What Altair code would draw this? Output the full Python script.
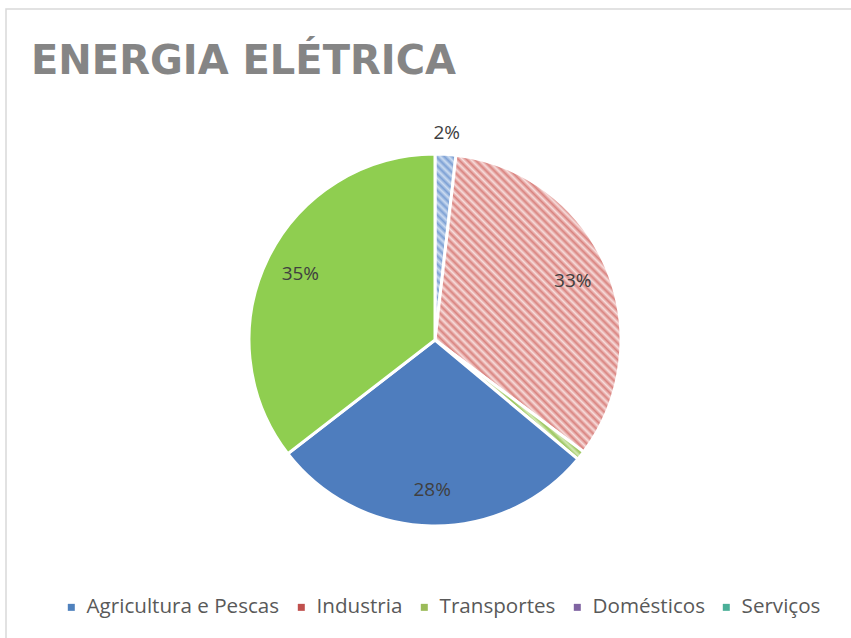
import math
import altair as alt
import pandas as pd

# ---- data ----
categories = ["Agricultura e Pescas", "Industria", "Transportes", "Domésticos", "Serviços"]
values = [1.8, 33.4, 0.8, 28.4, 35.4]
legend_colors = ["#4F81BD", "#C0504D", "#9BBB59", "#8064A2", "#4BAF98"]

df = pd.DataFrame({"category": categories, "value": values, "idx": list(range(len(categories)))})

# ---- styling ----
R = 186
W, H = 858, 662
total = sum(values)


def arc_bbox(a0, a1, r):
    pts = [(0.0, 0.0), (r * math.sin(a0), -r * math.cos(a0)), (r * math.sin(a1), -r * math.cos(a1))]
    for k in range(5):
        a = k * math.pi / 2
        if a0 < a < a1:
            pts.append((r * math.sin(a), -r * math.cos(a)))
    xs = [p[0] for p in pts]
    ys = [p[1] for p in pts]
    return max(xs) - min(xs), max(ys) - min(ys)


def hatch(w, h, bg, fg, period=5.8):
    k = (w + h) / (w * w + h * h)
    n = (w + h) / (period * math.sqrt(2))
    stops = []
    i = 0
    while i / n < 1:
        for frac, col in ((0.0, bg), (0.5, fg)):
            off = min(1.0, (i + frac) / n)
            stops.append({"offset": round(off, 5), "color": col})
        i += 1
    stops.append({"offset": 1.0, "color": bg})
    return {"gradient": "linear", "x1": 0, "y1": 1, "x2": k * w, "y2": 1 - k * h, "stops": stops}


angles = []
acc = 0.0
for v in values:
    a0 = acc / total * 2 * math.pi
    acc += v
    a1 = acc / total * 2 * math.pi
    angles.append((a0, a1))

hatch_cols = {
    "Agricultura e Pescas": ("#CCDCF1", "#7CA0D4"),
    "Industria": ("#F7DCDB", "#D9837F"),
    "Transportes": ("#D4E9B4", "#9CC660"),
}
conds = []
for cat, (a0, a1) in zip(categories, angles):
    if cat in hatch_cols:
        w, h = arc_bbox(a0, a1, R)
        conds.append({"test": f"datum.category === '{cat}'", "value": hatch(w, h, *hatch_cols[cat])})
conds.append({"test": "datum.category === 'Domésticos'", "value": "#4E7DBE"})
fill_def = {"condition": conds, "value": "#8FCE50"}

base = (
    alt.Chart(df)
    .transform_joinaggregate(total="sum(value)")
    .transform_window(cum="sum(value)", sort=[alt.SortField("idx")], frame=[None, 0])
    .transform_calculate(
        pct="datum.value / datum.total * 100",
        mid="datum.cum - datum.value / 2",
    )
    .transform_calculate(label="format(datum.pct, '.0f') + '%'", lr="datum.pct < 5 ? 207 : 150")
)

frame_layer = (
    alt.Chart(alt.InlineData(values=[{"frame": 1}]))
    .mark_rect(fill="transparent", stroke="#D9D9D9", strokeWidth=1.5)
    .encode(x=alt.value(0), x2=alt.value(W), y=alt.value(0), y2=alt.value(H))
)

arcs = base.mark_arc(outerRadius=R, stroke="white", strokeWidth=3).encode(
    theta=alt.Theta("value:Q", stack=True),
    order=alt.Order("idx:Q"),
    detail="category:N",
    fill=fill_def,
)

legend_layer = base.mark_arc(outerRadius=0).encode(
    theta=alt.Theta("value:Q", stack=True),
    order=alt.Order("idx:Q"),
    color=alt.Color(
        "category:N",
        sort=categories,
        scale=alt.Scale(domain=categories, range=legend_colors),
        legend=alt.Legend(
            title=None,
            orient="none",
            direction="horizontal",
            columns=5,
            legendX=55,
            legendY=588,
            symbolType="square",
            symbolSize=49,
            symbolStrokeWidth=0,
            labelFont="Open Sans",
            labelFontSize=20.6,
            labelColor="#595959",
            labelOffset=5,
            labelLimit=400,
            columnPadding=11,
            padding=0,
        ),
    ),
)

labels = base.mark_text(font="Open Sans", fontSize=19, color="#404040").encode(
    theta=alt.Theta("mid:Q", stack=None),
    radius=alt.Radius("lr:Q", scale=None),
    text="label:N",
    opacity=alt.condition("datum.pct < 1.5", alt.value(0), alt.value(1)),
)

chart = (
    alt.layer(frame_layer, arcs, legend_layer, labels)
    .properties(
        width=W,
        height=H,
        autosize="none",
        padding={"left": 6, "top": 9, "right": -13, "bottom": -33},
        title=alt.Title(
            "ENERGIA ELÉTRICA",
            anchor="start",
            frame="group",
            font="DejaVu Sans",
            fontSize=40,
            fontWeight="bold",
            color="#858585",
            baseline="alphabetic",
            offset=0,
            dx=25,
            dy=106,
        ),
    )
    .configure_view(stroke=None)
)

chart.save("out.html", embed_options={"renderer": "svg", "actions": False})
